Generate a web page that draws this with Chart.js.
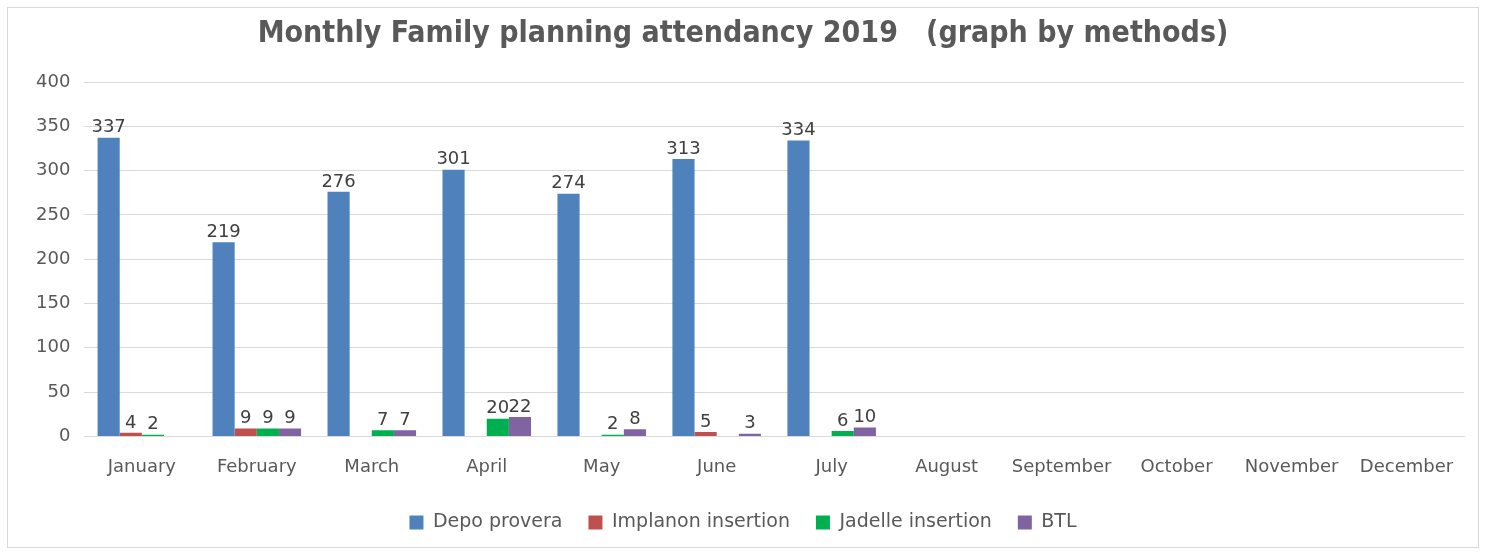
<!DOCTYPE html>
<html>
<head>
<meta charset="utf-8">
<script src="https://cdn.jsdelivr.net/npm/chart.js@4.4.1/dist/chart.umd.min.js"></script>
<style>
  html, body { margin: 0; padding: 0; background: #fff; }
  #wrap {
    position: absolute; left: 7px; top: 7px; width: 1472px; height: 541px;
    border: 1px solid #d9d9d9; box-sizing: border-box;
  }
  #chart { position: absolute; left: 0; top: 0; }
</style>
</head>
<body>
<div id="wrap"><canvas id="chart" width="1470" height="539"></canvas></div>
<script>
const months = ["January", "February", "March", "April", "May", "June", "July", "August", "September", "October", "November", "December"];
const depoProvera = [337, 219, 276, 301, 274, 313, 334, null, null, null, null, null];
const implanon = [4, 9, null, null, null, 5, null, null, null, null, null, null];
const jadelle = [2, 9, 7, 20, 2, null, 6, null, null, null, null, null];
const btl = [null, 9, 7, 22, 8, 3, 10, null, null, null, null, null];

const font = "'DejaVu Sans', sans-serif";
const titleFont = "'DejaVu Sans Condensed', 'DejaVu Sans', sans-serif";
const textColor = "#595959";

const valueLabels = {
  id: "valueLabels",
  afterDatasetsDraw(chart) {
    const ctx = chart.ctx;
    ctx.save();
    ctx.font = "18px " + font;
    ctx.fillStyle = "#404040";
    ctx.textAlign = "center";
    ctx.textBaseline = "bottom";
    chart.data.datasets.forEach((ds, i) => {
      const meta = chart.getDatasetMeta(i);
      meta.data.forEach((bar, j) => {
        const v = ds.data[j];
        if (v === null || v === undefined) return;
        ctx.fillText(String(v), bar.x, bar.y - 1);
      });
    });
    ctx.restore();
  }
};

// legend padding is wide (for item spacing), so trim its height and lift it a little
const legendGap = {
  id: "legendGap",
  beforeInit(chart) {
    const fit = chart.legend.fit;
    chart.legend.fit = function () {
      fit.bind(chart.legend)();
      this.height -= 4;
    };
  },
  afterLayout(chart) {
    chart.legend.top -= 9;
    chart.legend.bottom -= 9;
  }
};

new Chart(document.getElementById("chart"), {
  type: "bar",
  data: {
    labels: months,
    datasets: [
      { label: "Depo provera", data: depoProvera, backgroundColor: "#4F81BD" },
      { label: "Implanon insertion", data: implanon, backgroundColor: "#C0504D" },
      { label: "Jadelle insertion", data: jadelle, backgroundColor: "#00B050" },
      { label: "BTL", data: btl, backgroundColor: "#8064A2" }
    ]
  },
  options: {
    responsive: false,
    animation: false,
    layout: { padding: { left: 14, right: 14, top: 2, bottom: 0 } },
    datasets: { bar: { categoryPercentage: 0.77, barPercentage: 1.0 } },
    plugins: {
      title: {
        display: true,
        text: "Monthly Family planning attendancy 2019   (graph by methods)",
        color: textColor,
        font: { family: titleFont, size: 30, weight: "bold" },
        padding: { top: 6, bottom: 30 }
      },
      legend: {
        position: "bottom",
        labels: {
          color: textColor,
          font: { family: font, size: 19 },
          boxWidth: 14,
          boxHeight: 14,
          padding: 26
        }
      },
      tooltip: { enabled: false }
    },
    scales: {
      x: {
        grid: { display: false },
        border: { color: "#d9d9d9" },
        ticks: { color: textColor, font: { family: font, size: 18 }, padding: 12 },
        afterFit(scale) { scale.height += 6; }
      },
      y: {
        min: 0,
        max: 400,
        ticks: { stepSize: 50, color: textColor, font: { family: font, size: 18 }, padding: 14 },
        grid: { color: "#d9d9d9", drawTicks: false },
        border: { display: false }
      }
    }
  },
  plugins: [valueLabels, legendGap]
});
</script>
</body>
</html>
